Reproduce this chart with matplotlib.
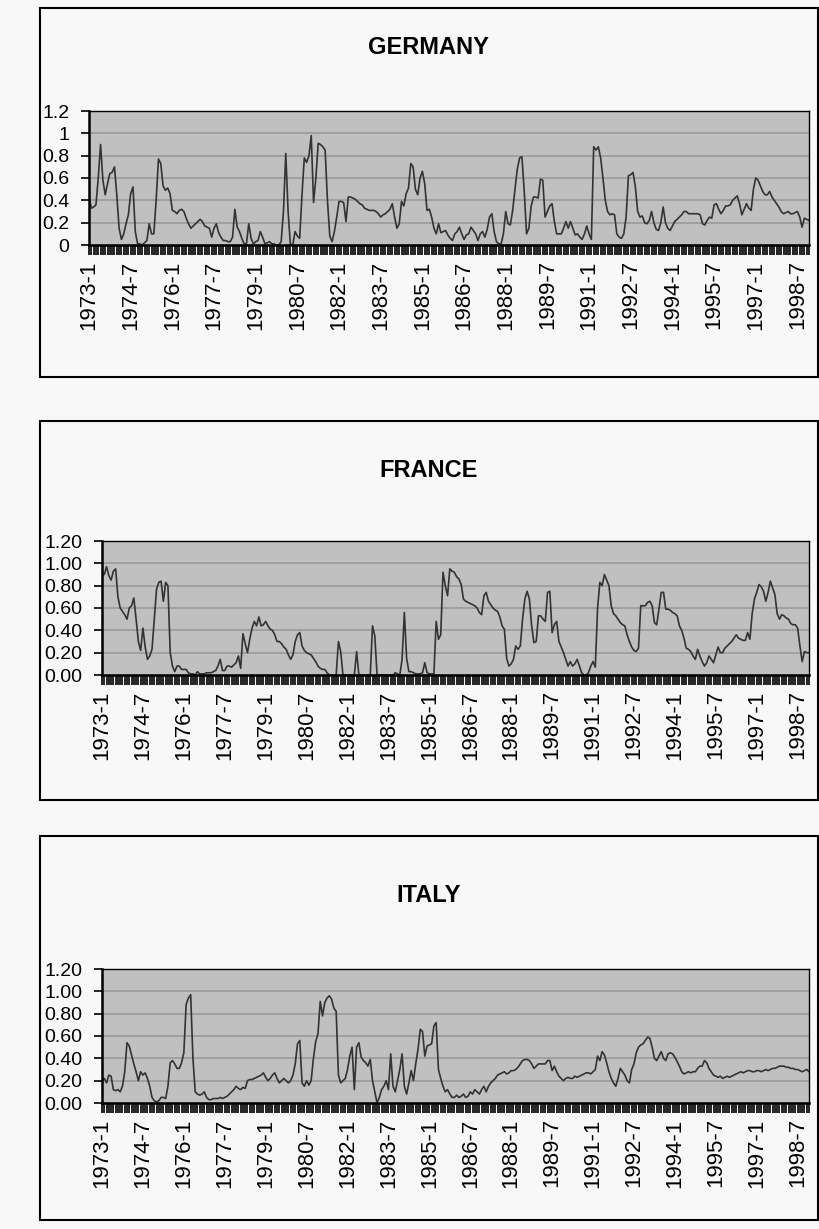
import numpy as np
import matplotlib
matplotlib.use('Agg')
import matplotlib.pyplot as plt
from matplotlib.patches import Rectangle

# monthly values 1973-1 .. 1998-12, one row per year
germany = [
    0.43, 0.33, 0.34, 0.36, 0.60, 0.90, 0.58, 0.45, 0.55, 0.64, 0.65, 0.70,
    0.45, 0.15, 0.05, 0.10, 0.19, 0.27, 0.46, 0.52, 0.12, 0.01, 0.01, 0.00,
    0.02, 0.04, 0.19, 0.10, 0.10, 0.40, 0.77, 0.73, 0.53, 0.49, 0.51, 0.46,
    0.31, 0.30, 0.28, 0.31, 0.32, 0.30, 0.24, 0.19, 0.15, 0.17, 0.19, 0.21,
    0.23, 0.21, 0.17, 0.16, 0.15, 0.07, 0.15, 0.19, 0.11, 0.07, 0.04, 0.04,
    0.03, 0.03, 0.07, 0.32, 0.16, 0.12, 0.06, 0.01, 0.01, 0.19, 0.06, 0.01,
    0.03, 0.04, 0.12, 0.07, 0.01, 0.02, 0.03, 0.01, 0.01, 0.00, 0.00, 0.03,
    0.30, 0.82, 0.30, 0.00, 0.00, 0.12, 0.08, 0.06, 0.45, 0.78, 0.74, 0.80,
    0.98, 0.38, 0.60, 0.91, 0.90, 0.88, 0.85, 0.40, 0.08, 0.03, 0.12, 0.25,
    0.39, 0.39, 0.38, 0.21, 0.43, 0.43, 0.42, 0.41, 0.39, 0.37, 0.36, 0.33,
    0.32, 0.31, 0.31, 0.31, 0.30, 0.28, 0.25, 0.27, 0.28, 0.30, 0.32, 0.37,
    0.25, 0.15, 0.19, 0.39, 0.35, 0.46, 0.51, 0.73, 0.70, 0.50, 0.45, 0.60,
    0.66, 0.55, 0.31, 0.32, 0.25, 0.15, 0.10, 0.19, 0.11, 0.12, 0.13, 0.09,
    0.06, 0.04, 0.10, 0.12, 0.16, 0.10, 0.05, 0.09, 0.10, 0.16, 0.13, 0.10,
    0.04, 0.10, 0.12, 0.07, 0.14, 0.25, 0.28, 0.12, 0.03, 0.01, 0.01, 0.10,
    0.30, 0.19, 0.18, 0.31, 0.50, 0.68, 0.78, 0.79, 0.48, 0.10, 0.15, 0.35,
    0.43, 0.43, 0.42, 0.59, 0.58, 0.25, 0.30, 0.35, 0.37, 0.21, 0.10, 0.10,
    0.10, 0.15, 0.21, 0.15, 0.21, 0.15, 0.09, 0.10, 0.07, 0.05, 0.10, 0.17,
    0.10, 0.05, 0.88, 0.85, 0.88, 0.78, 0.60, 0.40, 0.30, 0.27, 0.28, 0.27,
    0.10, 0.07, 0.06, 0.10, 0.25, 0.62, 0.63, 0.65, 0.52, 0.30, 0.25, 0.26,
    0.20, 0.19, 0.22, 0.30, 0.20, 0.14, 0.13, 0.20, 0.34, 0.20, 0.15, 0.13,
    0.17, 0.21, 0.23, 0.25, 0.27, 0.30, 0.30, 0.28, 0.28, 0.28, 0.28, 0.28,
    0.27, 0.19, 0.18, 0.22, 0.25, 0.24, 0.36, 0.37, 0.32, 0.28, 0.31, 0.35,
    0.35, 0.36, 0.40, 0.42, 0.44, 0.37, 0.27, 0.32, 0.37, 0.33, 0.31, 0.50,
    0.60, 0.58, 0.53, 0.48, 0.45, 0.45, 0.48, 0.43, 0.40, 0.37, 0.34, 0.30,
    0.28, 0.29, 0.30, 0.28, 0.28, 0.29, 0.30, 0.25, 0.16, 0.24, 0.23, 0.22,
]

france = [
    0.90, 0.90, 0.97, 0.89, 0.85, 0.93, 0.95, 0.70, 0.60, 0.57, 0.54, 0.50,
    0.60, 0.62, 0.69, 0.50, 0.30, 0.22, 0.42, 0.25, 0.14, 0.17, 0.23, 0.50,
    0.77, 0.83, 0.84, 0.66, 0.83, 0.80, 0.20, 0.08, 0.03, 0.08, 0.08, 0.05,
    0.05, 0.05, 0.02, 0.01, 0.01, 0.00, 0.03, 0.01, 0.01, 0.01, 0.02, 0.02,
    0.02, 0.03, 0.04, 0.08, 0.14, 0.04, 0.04, 0.08, 0.08, 0.07, 0.09, 0.11,
    0.17, 0.06, 0.37, 0.28, 0.20, 0.32, 0.42, 0.48, 0.44, 0.52, 0.44, 0.45,
    0.48, 0.44, 0.41, 0.40, 0.36, 0.30, 0.30, 0.28, 0.25, 0.23, 0.18, 0.14,
    0.18, 0.30, 0.36, 0.38, 0.26, 0.22, 0.20, 0.19, 0.18, 0.15, 0.12, 0.08,
    0.06, 0.05, 0.05, 0.02, 0.00, 0.00, 0.00, 0.00, 0.30, 0.21, 0.00, 0.00,
    0.00, 0.00, 0.00, 0.00, 0.21, 0.00, 0.00, 0.00, 0.00, 0.00, 0.00, 0.44,
    0.35, 0.00, 0.00, 0.00, 0.00, 0.00, 0.00, 0.00, 0.00, 0.02, 0.01, 0.00,
    0.14, 0.56, 0.15, 0.03, 0.03, 0.02, 0.01, 0.01, 0.01, 0.02, 0.11, 0.02,
    0.01, 0.01, 0.01, 0.48, 0.32, 0.36, 0.92, 0.80, 0.71, 0.95, 0.93, 0.92,
    0.88, 0.86, 0.81, 0.68, 0.66, 0.65, 0.64, 0.63, 0.62, 0.60, 0.56, 0.54,
    0.71, 0.74, 0.66, 0.63, 0.60, 0.58, 0.57, 0.52, 0.44, 0.41, 0.15, 0.08,
    0.10, 0.14, 0.26, 0.23, 0.26, 0.50, 0.68, 0.75, 0.68, 0.44, 0.29, 0.30,
    0.53, 0.53, 0.50, 0.48, 0.74, 0.75, 0.38, 0.45, 0.48, 0.30, 0.25, 0.20,
    0.14, 0.08, 0.12, 0.08, 0.10, 0.14, 0.08, 0.02, 0.00, 0.00, 0.02, 0.08,
    0.12, 0.07, 0.60, 0.83, 0.80, 0.90, 0.85, 0.80, 0.62, 0.55, 0.53, 0.50,
    0.47, 0.45, 0.44, 0.36, 0.30, 0.25, 0.22, 0.21, 0.24, 0.62, 0.62, 0.62,
    0.65, 0.66, 0.62, 0.47, 0.45, 0.59, 0.74, 0.74, 0.59, 0.59, 0.58, 0.56,
    0.55, 0.53, 0.44, 0.40, 0.33, 0.24, 0.23, 0.21, 0.17, 0.14, 0.23, 0.17,
    0.12, 0.08, 0.11, 0.17, 0.14, 0.11, 0.18, 0.25, 0.20, 0.20, 0.24, 0.26,
    0.28, 0.30, 0.33, 0.36, 0.33, 0.32, 0.31, 0.31, 0.38, 0.32, 0.55, 0.68,
    0.74, 0.81, 0.79, 0.75, 0.66, 0.74, 0.84, 0.78, 0.72, 0.55, 0.50, 0.54,
    0.53, 0.51, 0.50, 0.46, 0.45, 0.45, 0.42, 0.26, 0.12, 0.21, 0.20, 0.20,
]

italy = [
    0.20, 0.22, 0.18, 0.25, 0.24, 0.12, 0.11, 0.12, 0.10, 0.15, 0.28, 0.54,
    0.51, 0.43, 0.35, 0.28, 0.20, 0.28, 0.25, 0.27, 0.22, 0.15, 0.05, 0.02,
    0.01, 0.02, 0.05, 0.05, 0.04, 0.15, 0.36, 0.38, 0.35, 0.31, 0.31, 0.36,
    0.45, 0.88, 0.94, 0.97, 0.40, 0.10, 0.08, 0.07, 0.08, 0.10, 0.05, 0.03,
    0.03, 0.04, 0.04, 0.04, 0.05, 0.04, 0.05, 0.06, 0.08, 0.10, 0.12, 0.15,
    0.13, 0.12, 0.14, 0.13, 0.20, 0.21, 0.21, 0.22, 0.23, 0.24, 0.25, 0.27,
    0.23, 0.20, 0.22, 0.25, 0.27, 0.22, 0.18, 0.20, 0.22, 0.20, 0.18, 0.20,
    0.25, 0.35, 0.53, 0.56, 0.18, 0.15, 0.20, 0.16, 0.20, 0.40, 0.55, 0.62,
    0.91, 0.78, 0.90, 0.94, 0.96, 0.93, 0.85, 0.82, 0.25, 0.18, 0.20, 0.22,
    0.30, 0.42, 0.50, 0.12, 0.50, 0.54, 0.41, 0.38, 0.36, 0.33, 0.39, 0.20,
    0.10, 0.00, 0.05, 0.12, 0.15, 0.20, 0.12, 0.44, 0.15, 0.10, 0.20, 0.30,
    0.44, 0.15, 0.08, 0.18, 0.29, 0.20, 0.35, 0.48, 0.66, 0.64, 0.42, 0.51,
    0.52, 0.53, 0.69, 0.72, 0.30, 0.22, 0.15, 0.10, 0.12, 0.08, 0.05, 0.05,
    0.07, 0.05, 0.06, 0.08, 0.05, 0.06, 0.10, 0.08, 0.12, 0.10, 0.08, 0.12,
    0.15, 0.10, 0.15, 0.18, 0.20, 0.22, 0.25, 0.26, 0.27, 0.28, 0.26, 0.27,
    0.29, 0.29, 0.30, 0.32, 0.35, 0.38, 0.39, 0.39, 0.38, 0.35, 0.31, 0.33,
    0.35, 0.35, 0.35, 0.35, 0.38, 0.38, 0.29, 0.33, 0.28, 0.24, 0.22, 0.20,
    0.22, 0.23, 0.22, 0.22, 0.24, 0.23, 0.24, 0.25, 0.26, 0.27, 0.27, 0.26,
    0.28, 0.30, 0.42, 0.38, 0.46, 0.43, 0.36, 0.28, 0.22, 0.18, 0.15, 0.22,
    0.31, 0.28, 0.25, 0.20, 0.18, 0.30, 0.35, 0.45, 0.50, 0.52, 0.53, 0.56,
    0.59, 0.58, 0.50, 0.40, 0.38, 0.42, 0.46, 0.40, 0.38, 0.44, 0.45, 0.44,
    0.41, 0.37, 0.33, 0.28, 0.26, 0.27, 0.28, 0.27, 0.28, 0.28, 0.31, 0.33,
    0.33, 0.38, 0.36, 0.31, 0.28, 0.25, 0.24, 0.23, 0.24, 0.22, 0.23, 0.24,
    0.23, 0.24, 0.25, 0.26, 0.27, 0.28, 0.27, 0.28, 0.29, 0.29, 0.28, 0.28,
    0.29, 0.29, 0.28, 0.29, 0.30, 0.29, 0.30, 0.31, 0.31, 0.32, 0.33, 0.33,
    0.33, 0.32, 0.32, 0.31, 0.31, 0.30, 0.30, 0.29, 0.28, 0.29, 0.30, 0.28,
]

months = ['%d-%d' % (y, m) for y in range(1973, 1999) for m in range(1, 13)]
tick_labels = ['1973-1', '1974-7', '1976-1', '1977-7', '1979-1', '1980-7',
               '1982-1', '1983-7', '1985-1', '1986-7', '1988-1', '1989-7',
               '1991-1', '1992-7', '1994-1', '1995-7', '1997-1', '1998-7']
yticks = [0, 0.2, 0.4, 0.6, 0.8, 1.0, 1.2]

plt.rcParams['font.family'] = ['Liberation Sans', 'DejaVu Sans']

W, H = 820, 1229
fig = plt.figure(figsize=(W / 100, H / 100), dpi=100)
fig.patch.set_facecolor('#f8f8f8')

def px_rect(x0, y0, x1, y1):
    # pixel box (top-left origin) -> figure fraction
    return [x0 / W, 1 - y1 / H, (x1 - x0) / W, (y1 - y0) / H]

# title, series, outer box, plot area, y label format, title y
panels = [
    ('GERMANY', germany, (40, 8, 818, 377), (89, 111, 809, 245), '%g', 47),
    ('FRANCE', france, (40, 421, 818, 800), (102, 541, 809, 675), '%.2f', 470),
    ('ITALY', italy, (40, 836, 818, 1220), (102, 969, 809, 1103), '%.2f', 895),
]

x = np.arange(len(months))
for title, vals, box, area, fmt, ty in panels:
    bx = px_rect(*box)
    fig.patches.append(Rectangle((bx[0], bx[1]), bx[2], bx[3], transform=fig.transFigure,
                                 fill=False, ec='black', lw=1.5))
    ax = fig.add_axes(px_rect(*area))
    ax.set_facecolor('#c0c0c0')
    ax.plot(x, vals, color='#333333', lw=1.2)
    ax.set_xlim(0, len(months) - 1)
    ax.set_ylim(0, 1.2)
    ax.set_yticks(yticks)
    ax.set_yticklabels([fmt % v for v in yticks], fontsize=14)
    ax.yaxis.grid(True, color='#a0a0a0', lw=1.4)
    ax.set_axisbelow(True)
    ax.set_xticks([months.index(t) for t in tick_labels])
    ax.set_xticklabels(tick_labels, rotation=90, fontsize=16)
    ax.set_xticks(x, minor=True)
    ax.tick_params(axis='x', which='both', length=7, width=1.2, direction='out', pad=4)
    ax.tick_params(axis='y', length=6, width=1.2, pad=8)
    for s in ax.spines.values():
        s.set_color('black')
        s.set_linewidth(1.0)
    ax.spines['left'].set_linewidth(1.8)
    ax.spines['bottom'].set_linewidth(1.8)
    fig.text(429 / W, 1 - ty / H, title, ha='center', va='center',
             fontsize=17, fontweight='bold')

fig.savefig('out.png', dpi=100, facecolor=fig.get_facecolor())
